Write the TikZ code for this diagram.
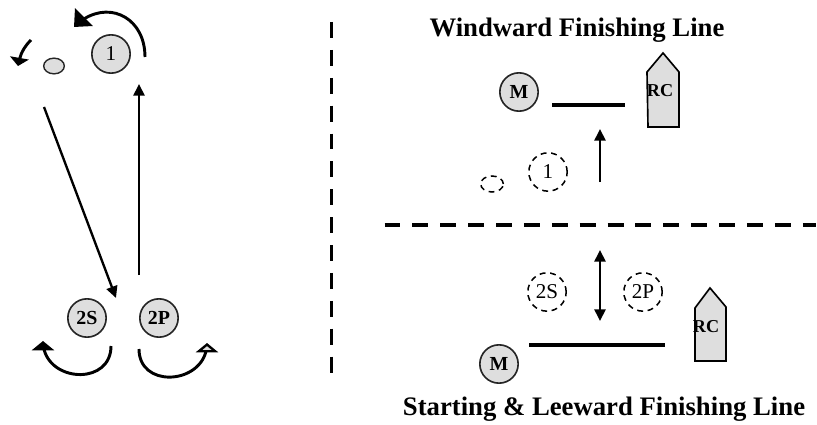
\documentclass[tikz,border=0pt]{standalone}
\usepackage{fontspec}
\setmainfont{Liberation Serif}
\usetikzlibrary{arrows.meta,bending,shapes.geometric}
\definecolor{boatgray}{gray}{0.87}
\tikzset{
  boat/.style={circle, draw=black!85, fill=boatgray, line width=1.4pt, minimum size=1.15cm, inner sep=0pt, font=\fontsize{17}{17}\selectfont\bfseries},
  ghost/.style={circle, draw=black, dash pattern=on 5pt off 4pt, line width=1.3pt, minimum size=1.15cm, inner sep=0pt, font=\fontsize{18}{18}\selectfont},
  mark1/.style={ellipse, draw=black!85, fill=boatgray, line width=1.2pt, minimum width=0.62cm, minimum height=0.47cm, inner sep=0pt},
  ghostmark/.style={ellipse, draw=black, dash pattern=on 5pt off 4pt, line width=1.3pt, minimum width=0.68cm, minimum height=0.48cm, inner sep=0pt},
  course/.style={-{Triangle[length=10pt,width=9.5pt]}, line width=2pt},
  turn/.style={line width=2.5pt},
  divider/.style={line width=3.4pt, dash pattern=on 13.6pt off 10.2pt},
  finish/.style={line width=4.2pt},
  committee/.style={draw=black, fill=boatgray, line width=1.4pt},
  title/.style={font=\fontsize{22.8}{22.8}\selectfont\bfseries},
  rclabel/.style={font=\fontsize{15.5}{15.5}\selectfont\bfseries, inner sep=0pt}
}
\begin{document}
\begin{tikzpicture}[x=0.03cm, y=-0.03cm]
      \useasboundingbox (0,0) rectangle (817,425);
      % left side
      \node[boat, font=\fontsize{18}{18}\selectfont] (one) at (111,54) {1};
      \node[mark1] (markA) at (54,66) {};
      \node[boat] (twoS) at (87,318) {2S};
      \node[boat] (twoP) at (159,318) {2P};
      \coordinate (legUpA) at (139,275);
      \coordinate (legUpB) at (139,84);
      \coordinate (legDownA) at (44,107);
      \coordinate (legDownB) at (116,298);
      \draw[course] (legUpA) -- (legUpB);
      \draw[course] (legDownA) -- (legDownB);
      \coordinate (roundA) at (145,57);
      \coordinate (roundB) at (74,27);
      \draw[turn, -{Triangle[length=12pt,width=21pt,flex=0]}] (roundA) to[out=90, in=45, looseness=1.4] (roundB);
      \coordinate (awayA) at (31,40);
      \coordinate (awayB) at (18,66);
      \draw[turn, -{Triangle[length=7pt,width=16pt,flex=0]}] (awayA) to[out=225, in=80] (awayB);
      \coordinate (portA) at (111,346);
      \coordinate (portB) at (43,341);
      \draw[turn, -{Triangle[length=8pt,width=19pt,flex=0]}] (portA) to[out=270, in=270, looseness=1.55] (portB);
      \coordinate (stbdA) at (139,349);
      \coordinate (stbdB) at (207,343);
      \draw[turn, -{Triangle[length=8pt,width=19pt,flex=0,open,fill=boatgray]}] (stbdA) to[out=270, in=270, looseness=1.55] (stbdB);
      % dividers
      \coordinate (vTop) at (331.5,22);
      \coordinate (vEnd) at (331.5,375);
      \draw[divider] (vTop) -- (vEnd);
      \coordinate (hLeft) at (384.5,225);
      \coordinate (hEnd) at (816,225);
      \draw[divider] (hLeft) -- (hEnd);
      % windward finish
      \node[title] (winTitle) at (577,30) {Windward Finishing Line};
      \node[boat] (markM) at (519,92) {M};
      \coordinate (lineA) at (552,105);
      \coordinate (lineB) at (625,105);
      \draw[finish] (lineA) -- (lineB);
      \draw[committee] (647,72) -- (663,53) -- (679,72) -- (679,127) -- (648,127) -- cycle;
      \node[rclabel] (rcTop) at (660,91) {RC};
      \coordinate (upA) at (600,182);
      \coordinate (upB) at (600,129);
      \draw[course] (upA) -- (upB);
      \node[ghost] (ghostOne) at (548,172) {1};
      \node[ghostmark] (ghostMark) at (492,184) {};
      % leeward finish
      \node[ghost] (ghostS) at (547,292) {2S};
      \node[ghost] (ghostP) at (643,292) {2P};
      \coordinate (dblA) at (600,250);
      \coordinate (dblB) at (600,321);
      \draw[course, {Triangle[length=10pt,width=9.5pt]}-{Triangle[length=10pt,width=9.5pt]}] (dblA) -- (dblB);
      \coordinate (startA) at (529,345);
      \coordinate (startB) at (665,345);
      \draw[finish] (startA) -- (startB);
      \node[boat] (markM2) at (499,364) {M};
      \draw[committee] (695,308) -- (710,288) -- (726,307) -- (726,361) -- (695,361) -- cycle;
      \node[rclabel] (rcBot) at (706,327) {RC};
      \node[title] (startTitle) at (604,409) {Starting \& Leeward Finishing Line};
\end{tikzpicture}
\end{document}
